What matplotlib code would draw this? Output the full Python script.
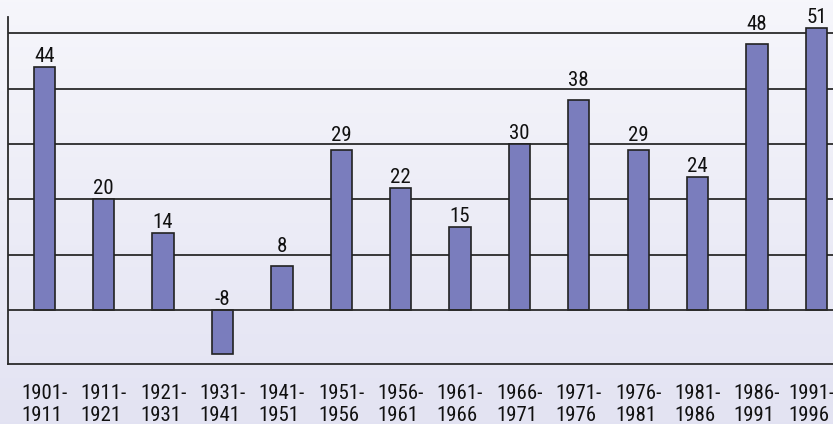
import numpy as np
import matplotlib
matplotlib.use("Agg")
import matplotlib.pyplot as plt
from matplotlib import font_manager
from matplotlib.font_manager import FontProperties
from matplotlib.transforms import ScaledTranslation

periods = ["1901-\n1911", "1911-\n1921", "1921-\n1931", "1931-\n1941", "1941-\n1951",
           "1951-\n1956", "1956-\n1961", "1961-\n1966", "1966-\n1971", "1971-\n1976",
           "1976-\n1981", "1981-\n1986", "1986-\n1991", "1991-\n1996"]
values = [44, 20, 14, -8, 8, 29, 22, 15, 30, 38, 29, 24, 48, 51]
gridvals = [0, 10, 20, 30, 40, 50]


def pick_font():
    cands = []
    for f in font_manager.fontManager.ttflist:
        nm = f.name.lower()
        st = str(f.stretch).lower()
        narrow = ("narrow" in nm or "condensed" in nm or "condensed" in st
                  or (isinstance(f.stretch, int) and f.stretch < 500))
        if not narrow or f.style != "normal":
            continue
        fn = f.fname.lower()
        if any(k in fn for k in ("bold", "italic", "oblique", "light", "mono", "thin", "black", "medium")):
            continue
        if "serif" in nm and "sans" not in nm:
            continue
        pri = 5
        if "liberation sans narrow" in nm:
            pri = 0
        elif "roboto" in nm:
            pri = 1
        elif "open sans" in nm:
            pri = 2
        elif "noto sans" in nm:
            pri = 3
        elif "dejavu sans" in nm:
            pri = 4
        cands.append((pri, f.fname))
    if cands:
        cands.sort()
        return FontProperties(fname=cands[0][1])
    return FontProperties(family="Roboto")


fp = pick_font()
fp.set_size(15)

W, H = 833, 424
DPI = 100
fig = plt.figure(figsize=(W/DPI, H/DPI), dpi=DPI)

bg = fig.add_axes([0, 0, 1, 1], zorder=0)
grad = np.linspace(0, 1, 256).reshape(-1, 1)
top = np.array([0.965, 0.965, 0.985])
bot = np.array([0.89, 0.89, 0.95])
img = top + (bot - top) * grad[:, :, None]
bg.imshow(img, aspect='auto', extent=[0, 1, 0, 1])
bg.set_axis_off()

ax_top, ax_bot = 16.7, 364.3
ax = fig.add_axes([8/W, (H-ax_bot)/H, 1-8/W, (ax_bot-ax_top)/H], zorder=1)
ax.patch.set_alpha(0)
ax.set_xlim(-0.611, 13.28)
ax.set_ylim(-9.8, 53.0)

x = np.arange(len(values))
ax.bar(x, values, width=0.36, color="#7a7dbd", edgecolor="#222222", linewidth=1.2, zorder=3)

for yv in gridvals:
    ax.axhline(yv, color="#2a2a2a", lw=1.3, zorder=1 if yv else 4)

# label placement (in pixels): 5px above bar, lifted above a gridline it would cross
px_per_unit = (ax_bot - ax_top) / (53.0 + 9.8)
grid_px = [g * px_per_unit for g in gridvals]
digit_h = 15
for xi, v in zip(x, values):
    base = max(v, 0) * px_per_unit + 5
    for g in grid_px:
        if base - 1 < g < base + digit_h + 1:
            base = g + 3
    ax.annotate(str(v), (xi, 0), xytext=(0, base * 72 / DPI), textcoords="offset points",
                ha="center", va="baseline", fontproperties=fp, color="#111111", zorder=5)

ax.set_xticks(x)
ax.set_xticklabels(periods, fontproperties=fp, color="#111111", linespacing=1.2,
                   multialignment="left")
ax.tick_params(axis='x', length=0, pad=14)
last = ax.get_xticklabels()[-1]
last.set_transform(last.get_transform() + ScaledTranslation(-5/DPI, 0, fig.dpi_scale_trans))
ax.set_yticks([])
for s in ["top", "right"]:
    ax.spines[s].set_visible(False)
for s in ["left", "bottom"]:
    ax.spines[s].set_color("#2a2a2a")
    ax.spines[s].set_linewidth(1.3)

fig.savefig("out.png", dpi=DPI)
